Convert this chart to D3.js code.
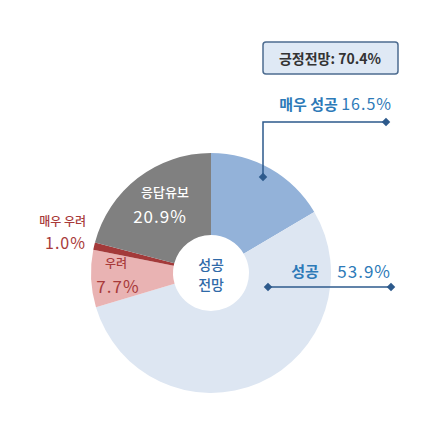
<!DOCTYPE html>
<html><head><meta charset="utf-8">
<script src="https://cdn.jsdelivr.net/npm/d3@7"></script>
<style>body{margin:0;background:#fff}svg{display:block}</style>
</head><body>
<script>
// chart data
const categories = ['매우 성공', '성공', '우려', '매우 우려', '응답유보'];
const values = [16.5, 53.9, 7.7, 1.0, 20.9];
const colors = ['#93b2d9', '#dde6f2', '#e9b3b3', '#a33a3a', '#808080'];
const positive = 70.4;

const W = 426, H = 429, cx = 211, cy = 273;
const font = "'Noto Sans CJK KR', 'Noto Sans', sans-serif";

const svg = d3.select('body').append('svg').attr('width', W).attr('height', H)
  .style('font-family', font);

const pie = d3.pie().sort(null).value(d => d);
const arc = d3.arc().innerRadius(38).outerRadius(120);
const arcs = pie(values);

const g = svg.append('g').attr('transform', `translate(${cx},${cy})`);
g.selectAll('path').data(arcs).join('path')
  .attr('d', arc).attr('fill', (d, i) => colors[i]);

// centre text
g.append('text').attr('text-anchor', 'middle').attr('y', -3).attr('fill', '#2f6aa8')
  .attr('font-size', 14).attr('font-weight', 500).text('성공');
g.append('text').attr('text-anchor', 'middle').attr('y', 17).attr('fill', '#2f6aa8')
  .attr('font-size', 14).attr('font-weight', 500).text('전망');

// summary box
svg.append('rect').attr('x', 263).attr('y', 42).attr('width', 135).attr('height', 32)
  .attr('rx', 3).attr('fill', '#dfe9f5').attr('stroke', '#4d6c90').attr('stroke-width', 1.5);
svg.append('text').attr('x', 330).attr('y', 64).attr('text-anchor', 'middle')
  .attr('font-size', 14).attr('font-weight', 700).attr('fill', '#333')
  .text(`긍정전망: ${positive}%`);

const lineC = '#2d5a8c';
// 매우 성공 leader
svg.append('path').attr('d', 'M263,177V122H386').attr('fill', 'none')
  .attr('stroke', lineC).attr('stroke-width', 1.5);
[[263, 177], [386, 122]].forEach(p => svg.append('rect').attr('x', p[0] - 3).attr('y', p[1] - 3)
  .attr('width', 6).attr('height', 6).attr('fill', lineC).attr('transform', `rotate(45 ${p[0]} ${p[1]})`));
svg.append('text').attr('x', 392).attr('y', 110).attr('text-anchor', 'end').attr('fill', '#2d7ab8')
  .attr('font-size', 15).attr('font-weight', 700)
  .html(`${categories[0]} <tspan font-weight="400" font-size="16" letter-spacing="1">${values[0].toFixed(1)}%</tspan>`);

// 성공 leader
svg.append('path').attr('d', 'M268,287H391').attr('stroke', lineC).attr('stroke-width', 1.5);
[[268, 287], [391, 287]].forEach(p => svg.append('rect').attr('x', p[0] - 3).attr('y', p[1] - 3)
  .attr('width', 6).attr('height', 6).attr('fill', lineC).attr('transform', `rotate(45 ${p[0]} ${p[1]})`));
svg.append('text').attr('x', 305).attr('y', 277).attr('text-anchor', 'middle').attr('fill', '#2d7ab8')
  .attr('font-size', 15).attr('font-weight', 700).text(categories[1]);
svg.append('text').attr('x', 391).attr('y', 278).attr('text-anchor', 'end').attr('fill', '#2d7ab8')
  .attr('font-size', 17).attr('letter-spacing', 1).text(values[1].toFixed(1) + '%');

// 응답유보
svg.append('text').attr('x', 165).attr('y', 197).attr('text-anchor', 'middle').attr('fill', '#fff')
  .attr('font-size', 13).attr('font-weight', 500).text(categories[4]);
svg.append('text').attr('x', 160).attr('y', 223).attr('text-anchor', 'middle').attr('fill', '#fff')
  .attr('font-size', 17).attr('letter-spacing', 1).text(values[4].toFixed(1) + '%');

// 매우 우려
svg.append('text').attr('x', 86).attr('y', 226).attr('text-anchor', 'end').attr('fill', '#a83a3a')
  .attr('font-size', 12).attr('font-weight', 500).text(categories[3]);
svg.append('text').attr('x', 86).attr('y', 249).attr('text-anchor', 'end').attr('fill', '#a83a3a')
  .attr('font-size', 16).attr('letter-spacing', 1).text(values[3].toFixed(1) + '%');

// 우려
svg.append('text').attr('x', 116).attr('y', 268).attr('text-anchor', 'middle').attr('fill', '#a83a3a')
  .attr('font-size', 12).attr('font-weight', 500).text(categories[2]);
svg.append('text').attr('x', 118).attr('y', 293).attr('text-anchor', 'middle').attr('fill', '#a83a3a')
  .attr('font-size', 17).attr('letter-spacing', 1).text(values[2].toFixed(1) + '%');
</script>
</body></html>
